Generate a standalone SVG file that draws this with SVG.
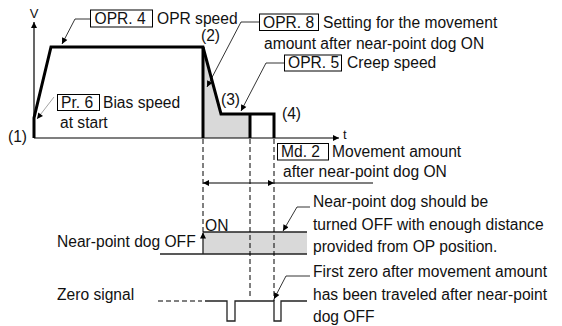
<svg xmlns="http://www.w3.org/2000/svg" width="562" height="326" viewBox="0 0 562 326">
  <style>
    text { font-family: "Liberation Sans", Arial, sans-serif; font-size: 15.6px; fill: #111; }
    .small { font-size: 13px; }
    .thick { fill: none; stroke: #000; stroke-width: 3; stroke-linejoin: miter; }
    .axis { fill: none; stroke: #000; stroke-width: 1.2; }
    .dash { fill: none; stroke: #000; stroke-width: 1; stroke-dasharray: 5 3; }
    .sig { fill: none; stroke: #222; stroke-width: 1.3; }
    .lead { fill: none; stroke: #000; stroke-width: 0.8; }
    .lead-gray { fill: none; stroke: #999; stroke-width: 0.9; }
    .box { fill: #fff; stroke: #000; stroke-width: 1; }
    .shade { fill: #d9d9d9; stroke: none; }
  </style>
  <defs>
    <marker id="arr" viewBox="0 0 10 10" refX="10" refY="5" markerWidth="8" markerHeight="6" markerUnits="userSpaceOnUse" orient="auto">
      <path d="M0,0 L10,5 L0,10 z" fill="#000"/>
    </marker>
    <marker id="arrStart" viewBox="0 0 10 10" refX="0" refY="5" markerWidth="8" markerHeight="6" markerUnits="userSpaceOnUse" orient="auto">
      <path d="M10,0 L0,5 L10,10 z" fill="#000"/>
    </marker>
  </defs>

  <!-- speed profile -->
  <g id="profile">
    <polygon class="shade" points="203,47 221,114 250,114 250,138 203,138"/>
    <line class="axis" x1="34" y1="138" x2="34" y2="22" marker-end="url(#arr)"/>
    <line class="axis" x1="34" y1="138" x2="339" y2="138" marker-end="url(#arr)"/>
    <text x="34" y="18" text-anchor="middle" class="small">V</text>
    <text x="343" y="139" class="small">t</text>
    <polyline class="thick" points="34,138 34,118 51,47 203,47 221,114 274,114 274,138"/>
    <line class="thick" x1="203" y1="47" x2="203" y2="138"/>
    <line class="thick" x1="250" y1="114" x2="250" y2="138"/>
    <text x="8" y="142">(1)</text>
    <text x="201" y="41">(2)</text>
    <text x="221" y="105">(3)</text>
    <text x="282" y="119">(4)</text>
  </g>

  <!-- parameter labels -->
  <g id="opr4">
    <rect class="box" x="90.5" y="10" width="62" height="17"/>
    <text x="94.5" y="23.5">OPR. 4</text>
    <text x="157" y="23.5">OPR speed</text>
  </g>
  <g id="pr6">
    <rect class="box" x="57.5" y="94.5" width="42" height="16"/>
    <text x="61" y="107.5">Pr. 6</text>
    <text x="103" y="107.5">Bias speed</text>
    <text x="60" y="128">at start</text>
  </g>
  <g id="opr8">
    <rect class="box" x="259.5" y="14" width="59" height="16.5"/>
    <text x="263" y="27.5">OPR. 8</text>
    <text x="323" y="27.5">Setting for the movement</text>
    <text x="264" y="49">amount after near-point dog ON</text>
  </g>
  <g id="opr5">
    <rect class="box" x="284.5" y="55" width="57" height="16"/>
    <text x="288" y="68">OPR. 5</text>
    <text x="347" y="68">Creep speed</text>
  </g>
  <g id="md2">
    <rect class="box" x="277.5" y="143.5" width="51" height="16.5"/>
    <text x="281" y="157">Md. 2</text>
    <text x="332" y="157">Movement amount</text>
    <text x="283" y="177">after near-point dog ON</text>
  </g>

  <!-- near-point dog signal -->
  <g id="near-point-dog">
    <rect class="shade" x="203" y="232" width="104" height="22"/>
    <line class="sig" x1="203" y1="232" x2="307" y2="232"/>
    <polyline class="sig" points="160,254 307,254"/>
    <line class="sig" x1="203" y1="254" x2="203" y2="232.5" marker-end="url(#arr)"/>
    <text x="205" y="231">ON</text>
    <text x="57" y="247">Near-point dog OFF</text>
    <text x="313" y="207">Near-point dog should be</text>
    <text x="313" y="230">turned OFF with enough distance</text>
    <text x="313" y="252">provided from OP position.</text>
  </g>

  <!-- zero signal -->
  <g id="zero-signal">
    <line class="dash" x1="158" y1="301" x2="202" y2="301"/>
    <polyline class="sig" points="205,301 227,301 227,321 235,321 235,301 274,301 274,321 281,321 281,301 307,301"/>
    <text x="57" y="300">Zero signal</text>
    <text x="313" y="277">First zero after movement amount</text>
    <text x="313" y="299.5">has been traveled after near-point</text>
    <text x="313" y="322">dog OFF</text>
  </g>

  <!-- connectors: timing guides, dimension and leaders -->
  <g id="connectors">
    <line class="dash" x1="203" y1="139" x2="203" y2="232"/>
    <line class="dash" x1="250" y1="139" x2="250" y2="297"/>
    <line class="dash" x1="274" y1="139" x2="274" y2="301"/>
    <line class="axis" x1="203" y1="183" x2="274" y2="183" marker-start="url(#arrStart)" marker-end="url(#arr)"/>
    <line class="axis" x1="274" y1="183" x2="373" y2="183"/>
    <polyline class="lead" points="90.5,19 75,19 62,44" marker-end="url(#arr)"/>
    <polyline class="lead-gray" points="54,97 37,119" marker-end="url(#arr)"/>
    <polyline class="lead" points="259.5,22 241,22 207,87" marker-end="url(#arr)"/>
    <polyline class="lead" points="284.5,63 266,63 241,111" marker-end="url(#arr)"/>
    <polyline class="lead" points="310,207 297,207 283,231" marker-end="url(#arr)"/>
    <polyline class="lead" points="310,276 286,276 274,299" marker-end="url(#arr)"/>
  </g>
</svg>
